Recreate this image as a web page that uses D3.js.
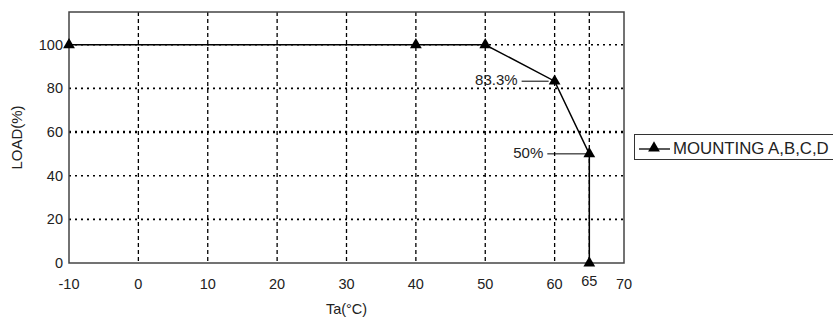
<!DOCTYPE html>
<html lang="en">
<head>
    <meta charset="UTF-8">
    <title>Derating Curve</title>
    <script src="https://d3js.org/d3.v7.min.js"></script>
    <style>
        body { margin: 0; padding: 0; background: #fff; }
        svg { display: block; }
        text { font-family: "Liberation Sans", Arial, sans-serif; fill: #222; }
    </style>
</head>
<body>
    <svg width="833" height="320"></svg>
    <script>
        // chart data
        const temps = [-10, 40, 50, 60, 65, 65];
        const loads = [100, 100, 100, 83.3, 50, 0];
        const xTicks = [-10, 0, 10, 20, 30, 40, 50, 60, 65, 70];
        const yTicks = [0, 20, 40, 60, 80, 100];
        const seriesName = "MOUNTING A,B,C,D";
        const noteTemps = [60, 65];
        const noteLoads = [83.3, 50];
        const noteLabels = ["83.3%", "50%"];

        const svg = d3.select("svg");
        const plotL = 69, plotR = 624, plotT = 12, plotB = 263;
        // leader line length per note (text sits just left of it)
        const leadLen = [[33, 6], [42, 3]];

        const x = d3.scaleLinear().domain([-10, 70]).range([plotL, plotR]);
        const y = d3.scaleLinear().domain([0, 115]).range([plotB, plotT]);

        // grid
        svg.append("g").selectAll("line")
            .data(xTicks.filter(d => d > -10 && d < 70))
            .enter().append("line")
            .attr("x1", d => x(d)).attr("x2", d => x(d))
            .attr("y1", plotT).attr("y2", plotB)
            .attr("stroke", "#000").attr("stroke-width", 1.3)
            .attr("stroke-dasharray", "4,3");

        svg.append("g").selectAll("line")
            .data(yTicks.filter(d => d > 0))
            .enter().append("line")
            .attr("x1", plotL).attr("x2", plotR)
            .attr("y1", d => y(d)).attr("y2", d => y(d))
            .attr("stroke", "#000")
            .attr("stroke-width", d => d === 60 ? 2.6 : 1.6)
            .attr("stroke-dasharray", "2,4");

        // frame
        svg.append("rect")
            .attr("x", plotL).attr("y", plotT)
            .attr("width", plotR - plotL).attr("height", plotB - plotT)
            .attr("fill", "none").attr("stroke", "#444").attr("stroke-width", 1.5);

        // axes labels
        svg.append("g").selectAll("text")
            .data(yTicks)
            .enter().append("text")
            .attr("x", plotL - 6)
            .attr("y", d => y(d) + 5)
            .attr("text-anchor", "end")
            .attr("font-size", 14.5)
            .text(d => d);

        svg.append("g").selectAll("text")
            .data(xTicks)
            .enter().append("text")
            .attr("x", d => x(d))
            .attr("y", d => d === 65 ? 286 : 289)
            .attr("text-anchor", "middle")
            .attr("font-size", 14.5)
            .text(d => d);

        svg.append("text")
            .attr("x", (plotL + plotR) / 2)
            .attr("y", 314)
            .attr("text-anchor", "middle")
            .attr("font-size", 14.5)
            .text("Ta(°C)");

        svg.append("text")
            .attr("transform", `translate(22,${(plotT + plotB) / 2}) rotate(-90)`)
            .attr("text-anchor", "middle")
            .attr("font-size", 15)
            .text("LOAD(%)");

        // series
        const pts = temps.map((t, i) => [t, loads[i]]);
        const line = d3.line().x(d => x(d[0])).y(d => y(d[1]));
        svg.append("path")
            .datum(pts)
            .attr("d", line)
            .attr("fill", "none")
            .attr("stroke", "#000")
            .attr("stroke-width", 1.5);

        const tri = d3.symbol().type(d3.symbolTriangle).size(60);
        svg.append("g").selectAll("path")
            .data(pts)
            .enter().append("path")
            .attr("d", tri)
            .attr("transform", d => `translate(${x(d[0])},${y(d[1])})`)
            .attr("fill", "#000");

        // annotations
        noteTemps.forEach((t, i) => {
            const px = x(t), py = y(noteLoads[i]);
            svg.append("line")
                .attr("x1", px - leadLen[i][0]).attr("x2", px - leadLen[i][1])
                .attr("y1", py).attr("y2", py)
                .attr("stroke", "#000").attr("stroke-width", 1);
            svg.append("text")
                .attr("x", px - leadLen[i][0] - 4)
                .attr("y", py + 4)
                .attr("text-anchor", "end")
                .attr("font-size", 15)
                .attr("fill", "#333")
                .text(noteLabels[i]);
        });

        // legend
        const lg = svg.append("g").attr("transform", "translate(634,134)");
        lg.append("rect")
            .attr("x", 0.5).attr("y", 0.5)
            .attr("width", 210).attr("height", 25)
            .attr("fill", "#fff").attr("stroke", "#333").attr("stroke-width", 1);
        lg.append("line")
            .attr("x1", 5).attr("x2", 36).attr("y1", 15).attr("y2", 15)
            .attr("stroke", "#000").attr("stroke-width", 1.3);
        lg.append("path")
            .attr("d", tri)
            .attr("transform", "translate(20,14)")
            .attr("fill", "#000");
        lg.append("text")
            .attr("x", 39).attr("y", 20)
            .attr("font-size", 16.8)
            .text(seriesName);
    </script>
</body>
</html>
